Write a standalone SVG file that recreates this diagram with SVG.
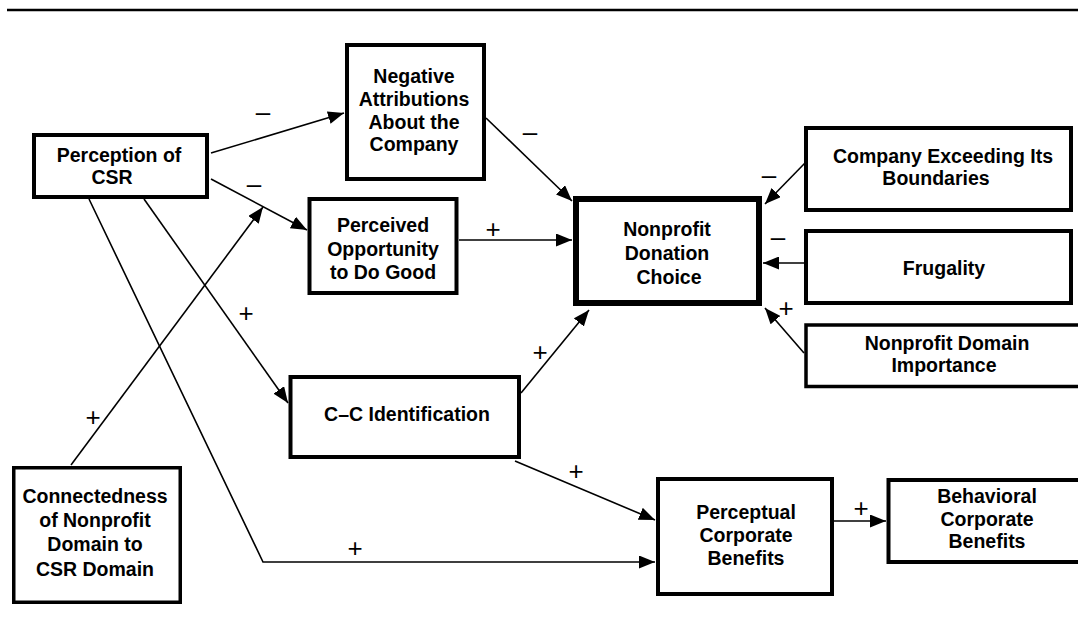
<svg xmlns="http://www.w3.org/2000/svg" width="1078" height="626" viewBox="0 0 1078 626">
<style>
.box{fill:#fff;stroke:#000;stroke-width:4}
.thick{stroke-width:6}
.lbl{font-family:"Liberation Sans",Arial,Helvetica,sans-serif;font-weight:bold;font-size:19.5px;text-anchor:middle;fill:#000}
.sign{font-family:"Liberation Sans",Arial,sans-serif;font-size:26px;text-anchor:middle;fill:#000}
.edge{fill:none;stroke:#000;stroke-width:1.6}
</style>
<defs>
<marker id="arr" markerUnits="userSpaceOnUse" markerWidth="17" markerHeight="13" refX="16" refY="6.5" orient="auto">
<path d="M0,0 L16,6.5 L0,13 z" fill="#000"/>
</marker>
</defs>
<rect width="1078" height="626" fill="#fff"/>
<line x1="7" y1="10" x2="1078" y2="10" stroke="#000" stroke-width="2.5"/>

<g id="connectors">
<line class="edge" x1="211" y1="153" x2="344" y2="113" marker-end="url(#arr)"/>
<line class="edge" x1="211" y1="179" x2="307" y2="230" marker-end="url(#arr)"/>
<line class="edge" x1="71" y1="465" x2="263" y2="207" marker-end="url(#arr)"/>
<line class="edge" x1="144" y1="199" x2="288" y2="403" marker-end="url(#arr)"/>
<polyline class="edge" points="89,199 263,562 655,562" marker-end="url(#arr)"/>
<line class="edge" x1="486" y1="118" x2="572" y2="201" marker-end="url(#arr)"/>
<line class="edge" x1="459" y1="240" x2="572" y2="240" marker-end="url(#arr)"/>
<line class="edge" x1="805" y1="163" x2="765" y2="204" marker-end="url(#arr)"/>
<line class="edge" x1="805" y1="263" x2="763" y2="263" marker-end="url(#arr)"/>
<line class="edge" x1="804" y1="353" x2="765" y2="308" marker-end="url(#arr)"/>
<line class="edge" x1="521" y1="393" x2="589" y2="310" marker-end="url(#arr)"/>
<line class="edge" x1="515" y1="461" x2="655" y2="520" marker-end="url(#arr)"/>
<line class="edge" x1="834" y1="521" x2="886" y2="521" marker-end="url(#arr)"/>
<text class="sign" x="263" y="121">–</text>
<text class="sign" x="254" y="193">–</text>
<text class="sign" x="530" y="141">–</text>
<text class="sign" x="769" y="184">–</text>
<text class="sign" x="778" y="246">–</text>
<text class="sign" x="493" y="238">+</text>
<text class="sign" x="786" y="317">+</text>
<text class="sign" x="540" y="361">+</text>
<text class="sign" x="576" y="480">+</text>
<text class="sign" x="861" y="517">+</text>
<text class="sign" x="93" y="426">+</text>
<text class="sign" x="246" y="322">+</text>
<text class="sign" x="355" y="557">+</text>
</g>

<g id="perception">
<rect class="box" x="34" y="135" width="173" height="62"/>
<text class="lbl" x="119" y="162">Perception of</text>
<text class="lbl" x="112" y="184">CSR</text>
</g>
<g id="negative">
<rect class="box" x="347" y="45" width="137" height="134"/>
<text class="lbl" x="414" y="83">Negative</text>
<text class="lbl" x="414" y="106">Attributions</text>
<text class="lbl" x="414" y="129">About the</text>
<text class="lbl" x="414" y="151">Company</text>
</g>
<g id="opportunity">
<rect class="box" x="309.5" y="199" width="147" height="94"/>
<text class="lbl" x="383" y="232">Perceived</text>
<text class="lbl" x="383" y="256">Opportunity</text>
<text class="lbl" x="383" y="279">to Do Good</text>
</g>
<g id="donation">
<rect class="box thick" x="576" y="199" width="183" height="104"/>
<text class="lbl" x="667" y="236">Nonprofit</text>
<text class="lbl" x="667" y="260">Donation</text>
<text class="lbl" x="669" y="284">Choice</text>
</g>
<g id="exceeding">
<rect class="box" x="806" y="128" width="265" height="82"/>
<text class="lbl" x="943" y="163">Company Exceeding Its</text>
<text class="lbl" x="936" y="185">Boundaries</text>
</g>
<g id="frugality">
<rect class="box" x="806" y="231" width="265" height="72"/>
<text class="lbl" x="944" y="275">Frugality</text>
</g>
<g id="importance">
<rect class="box" x="806" y="325" width="280" height="61.5" style="stroke-width:3.5"/>
<text class="lbl" x="947" y="350">Nonprofit Domain</text>
<text class="lbl" x="944" y="372">Importance</text>
</g>
<g id="identification">
<rect class="box" x="290.5" y="377" width="228.5" height="80"/>
<text class="lbl" x="407" y="421">C–C Identification</text>
</g>
<g id="connectedness">
<rect class="box" x="13.75" y="467.75" width="166.5" height="134.5" style="stroke-width:3.5"/>
<text class="lbl" x="95" y="503">Connectedness</text>
<text class="lbl" x="95" y="527">of Nonprofit</text>
<text class="lbl" x="95" y="551">Domain to</text>
<text class="lbl" x="95" y="576">CSR Domain</text>
</g>
<g id="perceptual">
<rect class="box" x="658" y="479" width="174" height="115"/>
<text class="lbl" x="746" y="519">Perceptual</text>
<text class="lbl" x="746" y="542">Corporate</text>
<text class="lbl" x="746" y="565">Benefits</text>
</g>
<g id="behavioral">
<rect class="box" x="888.5" y="480" width="200" height="82"/>
<text class="lbl" x="987" y="503">Behavioral</text>
<text class="lbl" x="987" y="526">Corporate</text>
<text class="lbl" x="987" y="548">Benefits</text>
</g>
</svg>
